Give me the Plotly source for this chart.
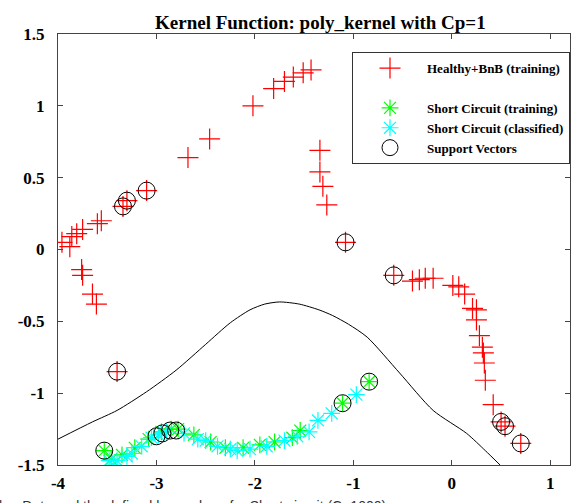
import plotly.graph_objects as go

# Healthy+BnB (training) - red crosses
healthy_x = [-3.96, -3.88, -3.86, -3.81, -3.75, -3.60, -3.56, -3.34, -3.30, -3.10,
             -2.68, -2.46, -2.02, -1.81, -1.70, -1.61, -1.51, -1.43,
             -1.34, -1.34, -1.31, -1.27, -1.08,
             -3.76, -3.75, -3.65, -3.61, -3.40,
             -0.59, -0.40, -0.33, -0.27, -0.19, 0.01, 0.07, 0.13, 0.21, 0.25, 0.25,
             0.28, 0.31, 0.32, 0.33, 0.34, 0.42, 0.50, 0.54, 0.70]
healthy_y = [0.05, 0.02, 0.09, 0.11, 0.14, 0.18, 0.20, 0.30, 0.34, 0.41,
             0.64, 0.77, 1.00, 1.12, 1.17, 1.20, 1.23, 1.25,
             0.69, 0.54, 0.44, 0.31, 0.05,
             -0.14, -0.18, -0.31, -0.38, -0.85,
             -0.18, -0.22, -0.21, -0.20, -0.20, -0.25, -0.26, -0.31, -0.41, -0.42, -0.49,
             -0.60, -0.68, -0.72, -0.79, -0.91, -1.08, -1.20, -1.23, -1.35]

# Short Circuit (training) - green asterisks
sc_train_x = [-3.53, -3.46, -3.35, -3.22, -3.08, -2.95, -2.85, -2.78, -2.62, -2.45,
              -2.30, -2.12, -1.95, -1.80, -1.62, -1.54, -1.11, -0.84]
sc_train_y = [-1.40, -1.46, -1.43, -1.38, -1.32, -1.27, -1.25, -1.25, -1.29, -1.34,
              -1.38, -1.38, -1.36, -1.34, -1.31, -1.26, -1.07, -0.92]

# Short Circuit (classified) - cyan asterisks
sc_cls_x = [-3.48, -3.44, -3.40, -3.30, -3.25, -3.15, -3.05, -2.98, -2.90, -2.72,
            -2.58, -2.50, -2.38, -2.25, -2.18, -2.05, -1.88, -1.70, -1.57, -1.45,
            -1.36, -1.22, -0.97]
sc_cls_y = [-1.47, -1.50, -1.47, -1.44, -1.42, -1.37, -1.31, -1.29, -1.27, -1.28,
            -1.32, -1.33, -1.37, -1.39, -1.40, -1.39, -1.37, -1.33, -1.30, -1.27,
            -1.19, -1.14, -1.01]

# Support vectors - black open circles
sv_x = [-3.34, -3.30, -3.10, -3.40, -1.08, -0.59, 0.50, 0.54, 0.70,
        -3.53, -3.00, -2.94, -2.86, -2.80, -1.11, -0.84]
sv_y = [0.30, 0.34, 0.41, -0.85, 0.05, -0.18, -1.20, -1.23, -1.35,
        -1.40, -1.30, -1.28, -1.26, -1.26, -1.07, -0.92]

# Decision boundary
bound_x = [-4.0, -3.65, -3.40, -3.10, -2.80, -2.50, -2.25, -2.05, -1.90, -1.75,
           -1.55, -1.35, -1.21, -1.05, -0.86, -0.53, -0.19, 0.15, 0.34, 0.49]
bound_y = [-1.32, -1.20, -1.12, -0.99, -0.84, -0.66, -0.51, -0.42, -0.38, -0.365,
           -0.38, -0.42, -0.46, -0.52, -0.61, -0.86, -1.12, -1.28, -1.40, -1.50]

x_ticks = [-4, -3, -2, -1, 0, 1]
x_ticktext = ["-4", "-3", "-2", "-1", "0", "1"]
y_ticks = [-1.5, -1, -0.5, 0, 0.5, 1, 1.5]
y_ticktext = ["-1.5", "-1", "-0.5", "0", "0.5", "1", "1.5"]

serif = "Liberation Serif"

fig = go.Figure()
fig.add_trace(go.Scatter(x=bound_x, y=bound_y, mode="lines",
                         line=dict(color="black", width=1, shape="spline", smoothing=0.7),
                         showlegend=False, hoverinfo="skip"))
fig.add_trace(go.Scatter(x=healthy_x, y=healthy_y, mode="markers", name="Healthy+BnB (training)",
                         marker=dict(symbol="cross-thin", size=15, line=dict(color="red", width=1.2), color="red")))
fig.add_trace(go.Scatter(x=[None], y=[None], mode="markers", name="\u00a0",
                         marker=dict(color="rgba(0,0,0,0)")))
fig.add_trace(go.Scatter(x=sc_train_x, y=sc_train_y, mode="markers", name="Short Circuit (training)",
                         marker=dict(symbol="asterisk", size=14, line=dict(color="#00ff00", width=1.2), color="#00ff00")))
fig.add_trace(go.Scatter(x=sc_cls_x, y=sc_cls_y, mode="markers", name="Short Circuit (classified)",
                         marker=dict(symbol="asterisk", size=14, line=dict(color="#00ffff", width=1.2), color="#00ffff")))
fig.add_trace(go.Scatter(x=sv_x, y=sv_y, mode="markers", name="Support Vectors",
                         marker=dict(symbol="circle-open", size=17, line=dict(color="black", width=1), color="black")))

axis_common = dict(showgrid=False, zeroline=False, showline=True, linecolor="#444", linewidth=1,
                   mirror="ticks", ticks="inside", ticklen=5, tickcolor="#444",
                   tickfont=dict(family=serif, size=17, color="black", weight="bold"))

fig.update_xaxes(range=[-4, 1.2], tickvals=x_ticks, ticktext=x_ticktext, ticklabelstandoff=3, **axis_common)
fig.update_yaxes(range=[-1.5, 1.5], tickvals=y_ticks, ticktext=y_ticktext, ticklabelstandoff=9, **axis_common)

fig.update_layout(
    width=577, height=503,
    margin=dict(l=58, r=7, t=34, b=38),
    plot_bgcolor="white", paper_bgcolor="white",
    legend=dict(x=1, xanchor="right", y=0.958, yanchor="top", bgcolor="white",
                bordercolor="#333", borderwidth=1, itemwidth=64, tracegroupgap=0,
                font=dict(family=serif, size=13, color="black", weight="bold")),
    annotations=[
        dict(text="<b>Kernel Function: poly_kernel with Cp=1</b>", xref="paper", yref="paper",
             x=0.513, y=1, yanchor="bottom", yshift=-1, showarrow=False,
             font=dict(family=serif, size=19, color="black")),
        dict(text="ha. Data and the defined hyperplane for Short circuit (C=1000)", xref="paper", yref="paper",
             x=-0.12, xanchor="left", y=0, yanchor="top", yshift=-31, showarrow=False,
             font=dict(family="Liberation Sans", size=14, color="#333")),
    ],
)

fig.write_html("out.html")
